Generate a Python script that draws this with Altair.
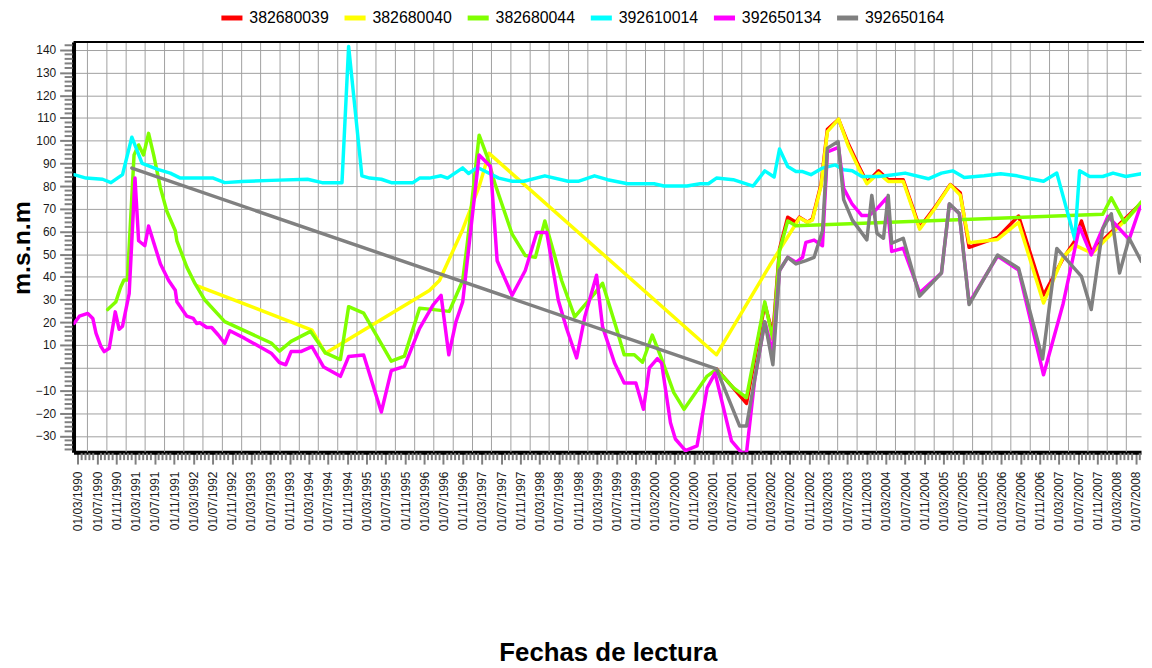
import altair as alt
import pandas as pd

series_names = ["382680039", "382680040", "382680044", "392610014", "392650134", "392650164"]
series_colors = ["#ff0000", "#ffff00", "#80ff00", "#00ffff", "#ff00ff", "#808080"]

# 382680039 (red)
dates_382680039 = ["2001-03-25", "2001-07-09", "2001-10-01", "2002-01-25", "2002-03-17", "2002-04-28",
                   "2002-06-19", "2002-08-10", "2002-09-01", "2002-10-22", "2002-11-22", "2003-01-16",
                   "2003-02-25", "2003-05-07", "2003-07-08", "2003-09-10", "2003-11-02", "2004-01-15",
                   "2004-03-16", "2004-06-19", "2004-10-01", "2005-01-04", "2005-04-13", "2005-06-15",
                   "2005-08-10", "2006-02-06", "2006-06-19", "2006-11-24", "2007-03-28", "2007-06-10",
                   "2007-07-22", "2007-09-22", "2008-08-04"]
vals_382680039 = [-0.5, -8.9, -15.7, 28, 14.6, 52.3,
                  66.3, 64.1, 66.3, 64.1, 65.5, 80.8,
                  105, 109.4, 98.5, 89, 81.7, 86.7,
                  82.8, 82.8, 61.7, 70.5, 80.7, 77,
                  53, 57.4, 66.8, 32, 48.1, 55.8,
                  64.6, 51.2, 72.5]

# 382680040 (yellow)
dates_382680040 = ["1992-03-22", "1994-03-22", "1994-06-15", "1996-04-03", "1996-06-06", "1996-10-31",
                   "1997-02-12", "1997-04-16", "2001-03-25", "2002-02-25", "2002-08-10", "2002-09-01",
                   "2002-10-22", "2002-11-22", "2003-01-16", "2003-02-25", "2003-05-07", "2003-07-08",
                   "2003-09-10", "2003-11-02", "2004-01-15", "2004-03-16", "2004-06-19", "2004-10-01",
                   "2005-01-04", "2005-04-13", "2005-06-15", "2005-08-10", "2006-02-06", "2006-06-19",
                   "2006-11-24", "2007-03-28", "2007-06-10", "2007-09-27", "2008-08-04"]
vals_382680040 = [36.2, 16.6, 6.4, 34, 38.4, 60.9,
                  79.8, 94.4, 5.7, 45, 63.4, 66,
                  64, 65, 80, 104, 109.5, 97.5,
                  88, 81, 85.7, 82, 82, 61,
                  70, 80.5, 76, 55, 56.5, 64,
                  28.5, 48.8, 54, 50.4, 72]

# 382680044 (green)
dates_382680044 = ["1990-09-06", "1990-10-27", "1990-11-27", "1990-12-18", "1991-01-09", "1991-02-20",
                   "1991-03-21", "1991-04-21", "1991-05-23", "1991-06-24", "1991-08-06", "1991-09-15",
                   "1991-11-08", "1991-11-18", "1992-01-20", "1992-03-12", "1992-05-13", "1992-09-16",
                   "1993-07-07", "1993-08-28", "1993-11-10", "1994-03-13", "1994-06-15", "1994-09-18",
                   "1994-11-09", "1995-02-12", "1995-08-06", "1995-10-28", "1996-02-01", "1996-04-03",
                   "1996-08-07", "1996-10-31", "1996-12-01", "1997-02-12", "1997-04-04", "1997-05-25",
                   "1997-09-09", "1997-12-01", "1998-02-03", "1998-04-04", "1998-07-19", "1998-10-10",
                   "1999-02-12", "1999-04-04", "1999-06-28", "1999-08-19", "1999-10-22", "1999-12-13",
                   "2000-02-13", "2000-04-06", "2000-06-28", "2000-09-01", "2001-01-25", "2001-03-25",
                   "2001-07-09", "2001-10-01", "2002-01-25", "2002-03-17", "2002-04-28", "2002-06-19",
                   "2002-08-10", "2007-12-04", "2008-01-27", "2008-04-19", "2008-07-22", "2008-08-04"]
vals_382680044 = [25.6, 28.9, 35.4, 38.6, 38.6, 93.7,
                  98.1, 93.7, 103.2, 93.7, 79.2, 69,
                  60.3, 55.9, 44.3, 37, 29.8, 20.3,
                  10.9, 7.3, 11.6, 16, 6.5, 3.6,
                  26.9, 24, 2.9, 5.1, 26.2, 25.8,
                  24.8, 38.4, 55.9, 102.4, 93, 80.6,
                  58.8, 49.4, 48.6, 64.6, 38.4, 22.4,
                  32.6, 37.2, 18, 5.7, 5.7, 2.4,
                  14.4, 5, -11, -18.3, -3.7, -0.8,
                  -8.8, -13.2, 29, 12.3, 51.5, 64.6,
                  62.5, 67.6, 74.8, 64, 71.9, 73]

# 392610014 (cyan)
dates_392610014 = ["1990-02-05", "1990-04-22", "1990-08-05", "1990-09-27", "1990-12-09", "1991-02-06",
                   "1991-04-12", "1991-07-25", "1991-10-07", "1991-12-10", "1992-07-05", "1992-09-16",
                   "1993-01-01", "1993-07-07", "1994-02-22", "1994-05-25", "1994-09-28", "1994-11-09",
                   "1995-02-01", "1995-03-22", "1995-06-04", "1995-08-06", "1995-12-21", "1996-02-01",
                   "1996-04-03", "1996-06-16", "1996-07-27", "1996-10-31", "1996-12-07", "1997-02-02",
                   "1997-03-25", "1997-06-16", "1997-09-09", "1997-11-22", "1998-04-04", "1998-08-29",
                   "1998-11-01", "1999-02-12", "1999-05-06", "1999-09-10", "2000-02-24", "2000-04-26",
                   "2000-09-19", "2000-12-12", "2001-02-02", "2001-03-25", "2001-07-09", "2001-11-12",
                   "2002-01-25", "2002-03-25", "2002-04-28", "2002-06-19", "2002-08-10", "2002-09-21",
                   "2002-11-13", "2003-01-25", "2003-04-16", "2003-06-08", "2003-08-01", "2003-10-01",
                   "2004-01-15", "2004-04-07", "2004-07-01", "2004-11-25", "2005-02-16", "2005-04-28",
                   "2005-07-10", "2005-11-13", "2006-02-26", "2006-06-10", "2006-09-01", "2006-11-24",
                   "2007-02-16", "2007-06-10", "2007-07-10", "2007-09-12", "2007-12-04", "2008-02-07",
                   "2008-04-28", "2008-08-04"]
vals_392610014 = [85, 83.5, 83, 81.5, 85, 101.5,
                  90, 87.2, 85.7, 83.5, 83.5, 81.5,
                  82, 82.5, 83, 81.5, 81.5, 141.5,
                  84.5, 83.5, 83, 81.5, 81.5, 83.5,
                  83.5, 84.5, 83.5, 88, 85.5, 88.2,
                  86.4, 83.5, 82.1, 82.1, 84.5, 82.1,
                  82.1, 84.5, 82.8, 81, 81, 80,
                  80, 81, 81, 83.5, 82.8, 80,
                  86.7, 84, 96.3, 88.6, 86.4, 86.4,
                  85, 87.9, 89.3, 87.2, 86.7, 84.2,
                  84.2, 84.9, 85.7, 83.2, 85.7, 86.7,
                  83.8, 84.5, 85.4, 84.5, 83.2, 82.1,
                  85.7, 56.6, 86.7, 84.2, 84.2, 85.7,
                  84.2, 85.4]

# 392650134 (magenta)
dates_392650134 = ["1990-02-05", "1990-03-11", "1990-05-03", "1990-06-04", "1990-06-24", "1990-07-25",
                   "1990-08-15", "1990-09-16", "1990-10-24", "1990-11-18", "1990-12-09", "1991-01-20",
                   "1991-02-26", "1991-03-21", "1991-04-29", "1991-05-23", "1991-06-24", "1991-08-06",
                   "1991-09-27", "1991-11-08", "1991-11-18", "1992-01-20", "1992-03-01", "1992-03-22",
                   "1992-04-12", "1992-05-25", "1992-06-25", "1992-08-06", "1992-09-16", "1992-10-18",
                   "1993-01-21", "1993-07-07", "1993-08-28", "1993-10-07", "1993-11-10", "1994-01-10",
                   "1994-03-22", "1994-06-04", "1994-09-18", "1994-11-09", "1995-02-12", "1995-06-04",
                   "1995-08-06", "1995-10-28", "1996-02-01", "1996-04-25", "1996-06-16", "1996-08-04",
                   "1996-09-18", "1996-10-31", "1997-02-12", "1997-04-25", "1997-06-06", "1997-09-09",
                   "1997-12-01", "1998-02-12", "1998-04-16", "1998-06-28", "1998-08-19", "1998-10-22",
                   "1998-12-13", "1999-02-25", "1999-04-04", "1999-06-19", "1999-08-19", "1999-11-01",
                   "1999-12-19", "2000-01-25", "2000-03-16", "2000-04-12", "2000-06-07", "2000-07-08",
                   "2000-09-10", "2000-11-22", "2001-01-25", "2001-03-16", "2001-06-28", "2001-09-01",
                   "2001-10-01", "2001-11-22", "2002-01-25", "2002-03-17", "2002-04-28", "2002-06-19",
                   "2002-08-10", "2002-09-21", "2002-10-12", "2002-12-03", "2003-01-25", "2003-02-25",
                   "2003-05-07", "2003-06-08", "2003-08-01", "2003-10-01", "2003-11-15", "2004-01-05",
                   "2004-03-06", "2004-04-07", "2004-06-19", "2004-10-01", "2005-02-16", "2005-04-07",
                   "2005-06-09", "2005-08-10", "2006-02-06", "2006-06-19", "2006-11-24", "2007-03-28",
                   "2007-07-10", "2007-09-22", "2008-01-06", "2008-05-19", "2008-07-22", "2008-08-04"]
vals_392650134 = [19.5, 22.7, 23.9, 21.7, 15.2, 9.4,
                  7.1, 8.6, 24.6, 16.9, 18.3, 32.6,
                  83.5, 55.9, 53.7, 62.4, 55.2, 45.7,
                  38.4, 34.1, 29, 22.7, 21.7, 19.5,
                  19.8, 17.7, 17.7, 14.4, 10.7, 16.3,
                  12.9, 6.4, 2.3, 1.3, 7.1, 7.1,
                  9.3, 0.3, -3.8, 4.9, 5.6, -19.5,
                  -1.3, 0.6, 17.3, 27.5, 31.9, 5.7,
                  20.2, 29, 93.7, 88.6, 47.1, 31.9,
                  42.8, 59.5, 59.5, 29.7, 17.4, 4.3,
                  22.5, 40.7, 18.1, 2.1, -6.7, -6.7,
                  -18.3, -0.1, 4, 2, -24.2, -31.4,
                  -36.5, -34.4, -8.9, -2.4, -32.2, -37.5,
                  -37.5, -5.3, 20.2, 6.5, 42.8, 48.6,
                  46.4, 48.6, 55.2, 56.2, 53.7, 95,
                  97, 79, 72, 67, 67, 70,
                  74.8, 51.2, 52.6, 33, 41.7, 72,
                  67.9, 28.5, 49.2, 43, -3.1, 28.2,
                  62, 49.7, 66.7, 56.5, 69.7, 71]

# 392650164 (grey)
dates_392650164 = ["1991-02-06", "2001-03-25", "2001-08-19", "2001-10-01", "2002-01-25", "2002-03-17",
                   "2002-04-28", "2002-06-19", "2002-08-10", "2002-10-12", "2002-12-03", "2003-01-25",
                   "2003-02-25", "2003-05-04", "2003-06-08", "2003-08-01", "2003-11-02", "2003-12-03",
                   "2004-01-05", "2004-02-15", "2004-03-16", "2004-04-07", "2004-06-19", "2004-10-01",
                   "2005-02-16", "2005-04-07", "2005-06-09", "2005-08-10", "2006-02-06", "2006-06-19",
                   "2006-11-18", "2007-02-16", "2007-07-22", "2007-09-22", "2007-12-04", "2008-01-27",
                   "2008-03-19", "2008-05-19", "2008-08-04"]
vals_392650164 = [87.9, -0.5, -25.7, -25.7, 20.2, 1.3,
                  42.8, 48.6, 45.7, 47.2, 48.6, 60.3,
                  96.7, 99.6, 74, 65.1, 56.3, 75.9,
                  59.2, 57, 75.9, 54.8, 57, 31.5,
                  41.7, 72.2, 67.9, 27.8, 49.6, 43.8,
                  3.8, 52.5, 40.2, 25.6, 61.3, 67.8,
                  41.7, 57, 46.8]

all_dates = [dates_382680039, dates_382680040, dates_382680044,
             dates_392610014, dates_392650134, dates_392650164]
all_vals = [vals_382680039, vals_382680040, vals_382680044,
            vals_392610014, vals_392650134, vals_392650164]

rows = []
for name, ds, vs in zip(series_names, all_dates, all_vals):
    for d, v in zip(ds, vs):
        rows.append({"date": d, "nivel": v, "serie": name})
df = pd.DataFrame(rows)

# axis structure
y_major = list(range(-30, 141, 10))
y_minor = [v for v in range(-36, 143, 2) if v % 10 != 0]
x_major = pd.date_range("1990-03-01", "2008-07-01", freq="4MS")
x_grid = pd.date_range("1990-05-01", "2008-05-01", freq="4MS")
x_minor = []
for i in range(len(x_major) - 1):
    d0, d1 = x_major[i], x_major[i + 1]
    for k in range(1, 5):
        x_minor.append(d0 + (d1 - d0) * k / 5)
step = (x_major[-1] - x_major[-2]) / 5
x_minor.append(x_major[-1] + step)


def ms(ts):
    return int(pd.Timestamp(ts).value // 10**6)


W, H = 1075, 413
x_dom = [ms("1990-02-02"), ms("2008-08-02")]
y_dom = [-37.2, 143.4]

xscale = alt.Scale(type="utc", domain=x_dom, nice=False)
yscale = alt.Scale(domain=y_dom, nice=False, zero=False)

FONT = "Liberation Sans"

x_axis = alt.Axis(
    values=[ms(d) for d in x_major], format="%d/%m/%Y", labelAngle=270,
    labelPadding=7, tickSize=12, grid=False, labelOverlap=False, labelFlush=False,
    labelBound=False, title="Fechas de lectura", titleFontSize=26,
    titleFontWeight="bold", titleX=538, titleY=210, titleAlign="center",
    titleBaseline="alphabetic", titleAnchor="middle",
)
y_axis = alt.Axis(
    values=y_major, labelExpr="datum.value == 0 ? '' : datum.label", tickSize=14,
    labelPadding=4, grid=True, gridColor="#a0a0a0", gridWidth=1,
    title="m.s.n.m", titleFontSize=25, titleFontWeight="bold", titleAngle=270,
    titleX=-44, titleY=207, titleAlign="center", titleBaseline="alphabetic",
)

X = lambda f: alt.X(f, scale=xscale, axis=x_axis)
Y = lambda f: alt.Y(f, scale=yscale, axis=y_axis)

grid_df = pd.DataFrame({"date": x_grid.strftime("%Y-%m-%d")})
grid = alt.Chart(grid_df).mark_rule(color="#a0a0a0", strokeWidth=1).encode(x=X("date:T"))

xminor_df = pd.DataFrame({"date": [pd.Timestamp(d).strftime("%Y-%m-%dT%H:%M:%SZ") for d in x_minor]})
xminor = alt.Chart(xminor_df).mark_rule(color="#808080", strokeWidth=2).encode(
    x=X("date:T"), y=alt.value(H + 1), y2=alt.value(H + 8))

yminor_df = pd.DataFrame({"nivel": y_minor})
yminor = alt.Chart(yminor_df).mark_rule(color="#808080", strokeWidth=2).encode(
    y=Y("nivel:Q"), x=alt.value(-9), x2=alt.value(-1))

lines = alt.Chart(df).mark_line(strokeWidth=3.5, clip=True, strokeJoin="round", strokeCap="round").encode(
    x=X("date:T"),
    y=Y("nivel:Q"),
    color=alt.Color(
        "serie:N",
        scale=alt.Scale(domain=series_names, range=series_colors),
        legend=alt.Legend(
            orient="none", legendX=146, legendY=-38, direction="horizontal", title=None,
            symbolType="stroke", symbolStrokeWidth=5, symbolSize=450,
            labelFontSize=16, labelFont=FONT, columnPadding=4, labelLimit=0,
        ),
    ),
)

top_df = pd.DataFrame({"k": [0]})
top = alt.Chart(top_df).mark_rule(color="black", strokeWidth=2).encode(
    x=alt.value(0), x2=alt.value(W + 3), y=alt.value(0))

chart = (
    alt.layer(grid, xminor, yminor, lines, top)
    .properties(
        width=W, height=H,
        padding={"left": 66, "top": 32, "right": 3, "bottom": 213},
        autosize=alt.AutoSizeParams(type="none"),
        background="white",
    )
    .configure_view(stroke=None)
    .configure_axis(
        domainColor="black", domainWidth=4, tickColor="#808080", tickWidth=2,
        labelFont=FONT, labelFontSize=12, labelColor="#1a1a1a",
        titleFont=FONT, titleColor="black",
    )
)

chart.save("out.html", embed_options={"renderer": "svg", "actions": False})
